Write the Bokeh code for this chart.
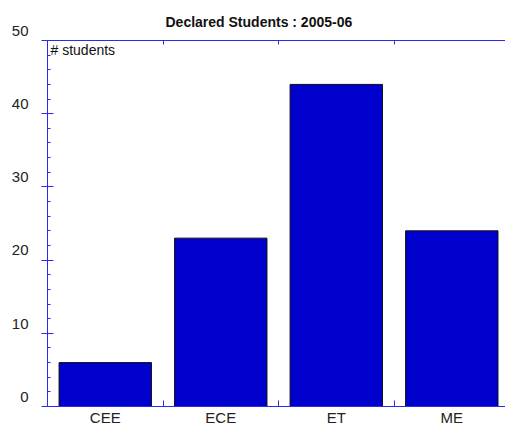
from bokeh.plotting import figure
from bokeh.models import Range1d, FixedTicker, LinearAxis, Label, ColumnDataSource
from bokeh.embed import file_html
from bokeh.resources import INLINE

categories = ["CEE", "ECE", "ET", "ME"]
students = [6, 23, 44, 24]
y_ticks = [0, 10, 20, 30, 40, 50]

centers = [i + 0.5 for i in range(len(categories))]
bounds = [i for i in range(1, len(categories))]

src = ColumnDataSource(dict(x=centers, top=students, cat=categories))

AX = "#2a2af0"
FONT = "Liberation Sans"

p = figure(width=505, height=428, output_backend="svg", toolbar_location=None,
           x_range=Range1d(0, 3.965), y_range=Range1d(0, 50),
           x_axis_location=None, y_axis_location=None,
           min_border_left=47, min_border_right=0, min_border_top=40, min_border_bottom=22)
p.title.text = "Declared Students : 2005-06"
p.title.align = "left"
p.title.offset = 118
p.title.text_font = FONT
p.title.text_font_size = "14px"
p.title.text_font_style = "bold"
p.title.text_color = "#111111"
p.title.standoff = 22

p.grid.visible = False
p.outline_line_color = None
p.background_fill_color = "white"
p.border_fill_color = "white"

p.vbar(x="x", top="top", width=0.8, source=src, fill_color="#0000cc",
       line_color="#111111", line_width=1)

# left axis
ya = LinearAxis(ticker=FixedTicker(ticks=y_ticks,
                                   minor_ticks=[v for v in range(0, 51, 2) if v % 10]))
ya.major_label_overrides = {v: f"{v}\n " for v in y_ticks}
ya.axis_line_color = AX
ya.major_tick_line_color = AX
ya.minor_tick_line_color = AX
ya.major_tick_in = 6
ya.major_tick_out = 6
ya.minor_tick_in = 3
ya.minor_tick_out = 0
ya.major_label_text_font = FONT
ya.major_label_text_font_size = "15px"
ya.major_label_text_color = "#222222"
ya.major_label_standoff = 13
p.add_layout(ya, "left")

# bottom axis
xa = LinearAxis(ticker=FixedTicker(ticks=centers, minor_ticks=bounds))
xa.major_label_overrides = {c: lab for c, lab in zip(centers, categories)}
xa.axis_line_color = AX
xa.major_tick_line_color = None
xa.major_tick_in = 0
xa.major_tick_out = 0
xa.minor_tick_line_color = AX
xa.minor_tick_in = 6
xa.minor_tick_out = 0
xa.major_label_text_font = FONT
xa.major_label_text_font_size = "15px"
xa.major_label_text_color = "#222222"
xa.major_label_standoff = 2
p.add_layout(xa, "below")

# top axis (only category boundary ticks)
ta = LinearAxis(ticker=FixedTicker(ticks=[], minor_ticks=bounds))
ta.axis_line_color = AX
ta.major_tick_line_color = None
ta.major_tick_in = 0
ta.major_tick_out = 0
ta.minor_tick_line_color = AX
ta.minor_tick_in = 4
ta.minor_tick_out = 0
ta.major_label_standoff = 0
p.add_layout(ta, "above")

p.add_layout(Label(x=0, y=50, text="# students", x_offset=3, y_offset=-1,
                   text_font=FONT, text_font_size="14px", text_color="#111111",
                   text_baseline="top"))

open("out.html", "w").write(file_html(p, INLINE))
